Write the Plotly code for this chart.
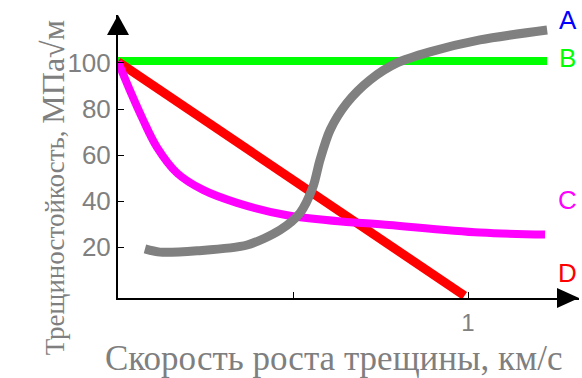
import plotly.graph_objects as go

# curve values
a_x = [0.077, 0.12, 0.226, 0.369, 0.463, 0.52, 0.557, 0.577, 0.606, 0.654, 0.72, 0.797, 0.891, 1.034, 1.226]
a_y = [19.3, 17.9, 18.5, 21.0, 27.5, 34.9, 46.2, 57.9, 70.9, 82.6, 92.6, 100.0, 104.8, 110.0, 114.3]

b_x = [0.0, 1.226]
b_y = [100.8, 100.8]

c_x = [0.0, 0.04, 0.071, 0.111, 0.169, 0.243, 0.34, 0.483, 0.663, 0.749, 1.034, 1.22]
c_y = [100.5, 86.0, 75.5, 63.5, 52.2, 44.9, 39.3, 33.9, 30.9, 30.0, 26.4, 25.5]

d_x = [0.0, 0.99]
d_y = [100.5, -1.0]

labels = ["A", "B", "C", "D"]
label_y = [118.5, 102, 40.5, 9]
label_colors = ["#0000ff", "#00ff00", "#ff00ff", "#ff0000"]

y_ticks = [20, 40, 60, 80, 100]
x_ticks = [0.5, 1]
x_ticktext = ["", "1"]

fig = go.Figure()
fig.add_trace(go.Scatter(x=b_x, y=b_y, mode="lines", line=dict(color="#00ff00", width=8)))
fig.add_trace(go.Scatter(x=d_x, y=d_y, mode="lines", line=dict(color="#ff0000", width=9)))
fig.add_trace(go.Scatter(x=c_x, y=c_y, mode="lines", line=dict(color="#ff00ff", width=8, shape="spline", smoothing=1)))
fig.add_trace(go.Scatter(x=a_x, y=a_y, mode="lines", line=dict(color="#808080", width=9, shape="spline", smoothing=0.8)))

for t, yy, col in zip(labels, label_y, label_colors):
    fig.add_annotation(x=1.285, y=yy, text=t, showarrow=False, xanchor="center",
                       font=dict(family="Liberation Sans, Arial", size=26, color=col))

# axis titles
fig.add_annotation(xref="paper", yref="paper", x=0.468, y=-0.139, yanchor="top",
                   text="Скорость роста трещины, км/с", showarrow=False,
                   font=dict(family="Liberation Serif, Times New Roman", size=35, color="#7f7f7f"))
fig.add_annotation(xref="paper", yref="paper", x=-0.185, y=0.39, textangle=-90,
                   text="Трещиностойкость, <span style='font-size:32px'>МПа√м</span>", showarrow=False,
                   font=dict(family="Liberation Serif, Times New Roman", size=27, color="#7f7f7f"))

# arrow heads
fig.add_shape(type="path", xref="paper", yref="paper", xsizemode="pixel", ysizemode="pixel",
              xanchor=0, yanchor=1, path="M -11 -20 L 11 -20 L 0 0 Z",
              fillcolor="black", line=dict(width=0))
fig.add_shape(type="path", xref="paper", yref="paper", xsizemode="pixel", ysizemode="pixel",
              xanchor=1, yanchor=0, path="M 0 0 L -22 10 L -22 -10 Z",
              fillcolor="black", line=dict(width=0))

fig.update_layout(
    width=582, height=378,
    margin=dict(l=118, r=3, t=15, b=80),
    paper_bgcolor="white", plot_bgcolor="white",
    showlegend=False,
)
fig.update_xaxes(range=[0, 1.317], showgrid=False, zeroline=False, automargin=False,
                 showline=True, linecolor="black", linewidth=2,
                 tickvals=x_ticks, ticktext=x_ticktext, ticks="inside", ticklen=6,
                 ticklabelstandoff=2,
                 tickcolor="black", tickfont=dict(family="Liberation Sans, Arial", size=24, color="#808080"))
fig.update_yaxes(range=[-2, 120.8], showgrid=False, zeroline=False, automargin=False,
                 showline=True, linecolor="black", linewidth=2,
                 tickvals=y_ticks, ticks="inside", ticklen=6, tickcolor="black",
                 tickfont=dict(family="Liberation Sans, Arial", size=26, color="#808080"))

# page body has a default margin; drop it so the figure sits at the corner
fig.write_html("out.html", config={"displayModeBar": False},
               post_script="document.body.style.margin='0';")
